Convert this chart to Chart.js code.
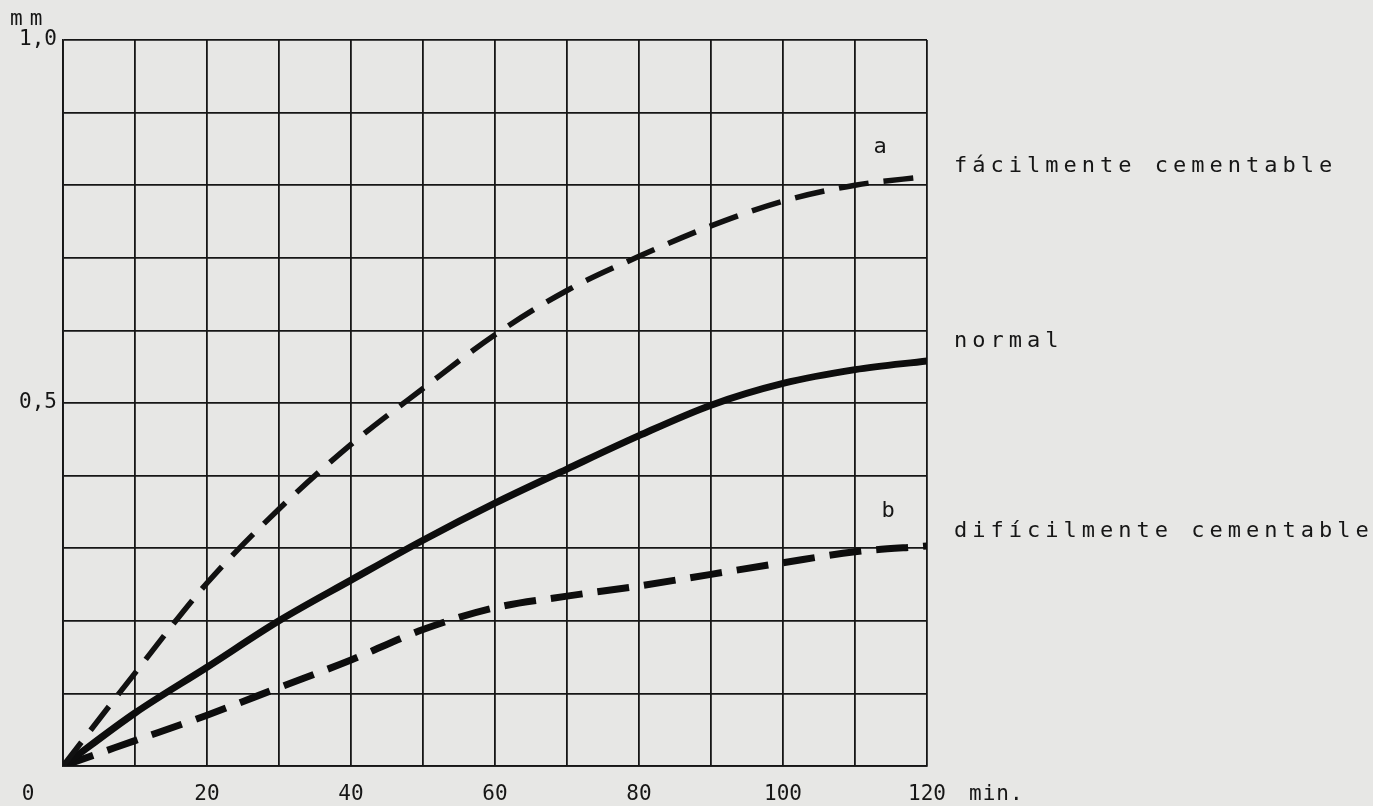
<!DOCTYPE html>
<html>
<head>
<meta charset="utf-8">
<script src="https://cdn.jsdelivr.net/npm/chart.js@4/dist/chart.umd.min.js"></script>
<style>
  html, body {
    margin: 0;
    padding: 0;
    background: #e7e7e5;
  }
  #wrap {
    width: 1373px;
    height: 806px;
    position: relative;
  }
</style>
</head>
<body>
<div id="wrap">
  <canvas id="curvas"></canvas>
</div>
<script>
// tiempo de cementación (min)
const minutos = [0, 10, 20, 30, 40, 50, 60, 70, 80, 90, 100, 110, 120];

// profundidad de capa (mm)
const facilmente = [0, 0.128, 0.252, 0.354, 0.443, 0.520, 0.594, 0.655, 0.702, 0.744, 0.778, 0.800, 0.812];
const normal = [0, 0.073, 0.136, 0.200, 0.256, 0.311, 0.362, 0.409, 0.455, 0.497, 0.527, 0.546, 0.558];
const dificilmente = [0, 0.035, 0.070, 0.108, 0.146, 0.188, 0.218, 0.234, 0.248, 0.264, 0.280, 0.295, 0.303];

const etiquetasY = { 1: '1,0', 0.5: '0,5' };
const etiquetasCurvas = ['fácilmente cementable', 'normal', 'difícilmente cementable'];
const letrasCurvas = ['a', '', 'b'];

const tinta = '#161616';
const fuente = '"DejaVu Sans Mono", monospace';

const puntos = (vals) => minutos.map((m, i) => ({ x: m, y: vals[i] }));

// textos sueltos: unidades, "0", "min." y rótulos de las curvas
const textosExtra = {
  id: 'textosExtra',
  afterDraw(chart) {
    const { ctx, chartArea, scales } = chart;
    const x = scales.x;
    const y = scales.y;

    ctx.save();
    ctx.fillStyle = tinta;
    ctx.font = `21px ${fuente}`;
    ctx.textBaseline = 'alphabetic';

    // unidades
    ctx.letterSpacing = '7px';
    ctx.textAlign = 'left';
    ctx.fillText('mm', 10, 25);

    ctx.letterSpacing = '0px';
    ctx.textAlign = 'center';
    ctx.fillText('0', chartArea.left - 35, 800);

    ctx.textAlign = 'left';
    ctx.letterSpacing = '1px';
    ctx.fillText('min.', x.getPixelForValue(120) + 42, 800);

    // rótulos a la derecha
    const finales = [facilmente, normal, dificilmente];
    const desplazTexto = [-4, -14, -9];
    const desplazLetra = [-23, 0, -29];
    const xTexto = chartArea.right + 27;

    ctx.font = `22px ${fuente}`;
    finales.forEach((serie, i) => {
      const yFin = y.getPixelForValue(serie[serie.length - 1]);
      ctx.letterSpacing = '5px';
      ctx.textAlign = 'left';
      ctx.fillText(etiquetasCurvas[i], xTexto, yFin + desplazTexto[i]);

      if (letrasCurvas[i]) {
        ctx.letterSpacing = '0px';
        ctx.textAlign = 'center';
        ctx.fillText(letrasCurvas[i], x.getPixelForValue(110) + 25 + i * 4, yFin + desplazLetra[i]);
      }
    });

    ctx.restore();
  }
};

new Chart(document.getElementById('curvas'), {
  type: 'line',

  data: {
    datasets: [
      {
        label: 'a',
        data: puntos(facilmente),
        borderColor: '#111',
        borderWidth: 5.5,
        borderDash: [30, 15],
        cubicInterpolationMode: 'monotone',
        pointRadius: 0
      },
      {
        label: 'normal',
        data: puntos(normal),
        borderColor: '#0d0d0d',
        borderWidth: 7,
        cubicInterpolationMode: 'monotone',
        pointRadius: 0
      },
      {
        label: 'b',
        data: puntos(dificilmente),
        borderColor: '#0d0d0d',
        borderWidth: 7,
        borderDash: [32, 15],
        cubicInterpolationMode: 'monotone',
        pointRadius: 0
      }
    ]
  },

  options: {
    responsive: true,
    maintainAspectRatio: false,
    animation: false,

    layout: {
      padding: {
        top: 40,
        right: 446,
        bottom: 0,
        left: 0
      }
    },

    plugins: {
      legend: { display: false },
      tooltip: { enabled: false }
    },

    scales: {
      x: {
        type: 'linear',
        min: 0,
        max: 120,
        afterFit: (scale) => {
          scale.height = 40;
        },
        border: {
          color: tinta,
          width: 1.8
        },
        grid: {
          color: tinta,
          lineWidth: 1.8,
          drawTicks: false
        },
        ticks: {
          stepSize: 10,
          autoSkip: false,
          maxRotation: 0,
          padding: 16,
          color: tinta,
          font: {
            family: fuente,
            size: 21
          },
          callback: (value) => (value > 0 && value % 20 === 0 ? String(value) : '')
        }
      },

      y: {
        min: 0,
        max: 1,
        afterFit: (scale) => {
          scale.width = 63;
        },
        border: {
          color: tinta,
          width: 1.8
        },
        grid: {
          color: tinta,
          lineWidth: 1.8,
          drawTicks: false
        },
        ticks: {
          stepSize: 0.1,
          autoSkip: false,
          padding: 6,
          color: tinta,
          font: {
            family: fuente,
            size: 21
          },
          callback: (value) => {
            const v = Math.round(value * 10) / 10;
            return etiquetasY[v] || '';
          }
        }
      }
    }
  },

  plugins: [textosExtra]
});
</script>
</body>
</html>
